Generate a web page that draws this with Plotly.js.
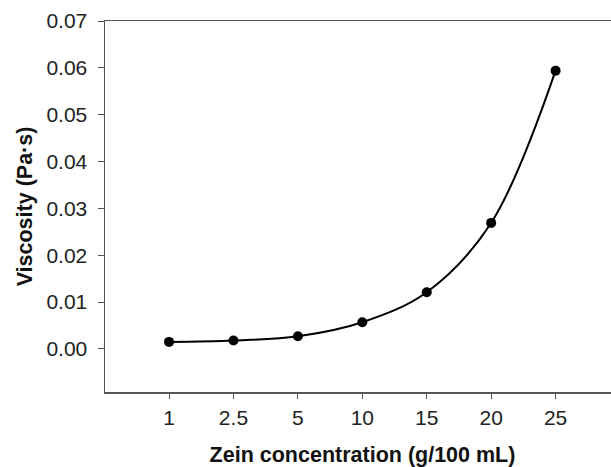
<!DOCTYPE html>
<html>
<head>
<meta charset="utf-8">
<script src="https://cdn.plot.ly/plotly-3.0.1.min.js"></script>
<style>
html, body { margin: 0; padding: 0; overflow: hidden; background: #fff; }
#chart { width: 630px; height: 467px; }
</style>
</head>
<body>
<div id="chart"></div>
<script>
const concentrations = ['1', '2.5', '5', '10', '15', '20', '25'];
const viscosity = [0.0015, 0.0018, 0.0027, 0.0057, 0.0121, 0.0269, 0.0594];
const yTickVals = [0, 0.01, 0.02, 0.03, 0.04, 0.05, 0.06, 0.07];
const yTickText = ['0.00', '0.01', '0.02', '0.03', '0.04', '0.05', '0.06', '0.07'];

const trace = {
  x: concentrations,
  y: viscosity,
  type: 'scatter',
  mode: 'lines+markers',
  line: { color: '#000', width: 2, shape: 'spline', smoothing: 1 },
  marker: { color: '#000', size: 10 },
  cliponaxis: false,
  hoverinfo: 'skip'
};

const layout = {
  width: 630,
  height: 467,
  margin: { l: 105, r: 10, t: 21, b: 75 },
  paper_bgcolor: '#fff',
  plot_bgcolor: '#fff',
  showlegend: false,
  font: { family: 'Liberation Sans, Arial, sans-serif', color: '#222' },
  xaxis: {
    type: 'category',
    range: [-0.994, 7.0],
    showgrid: false,
    zeroline: false,
    showline: true,
    mirror: true,
    linecolor: '#555',
    linewidth: 1.5,
    ticks: 'outside',
    ticklen: 5,
    tickwidth: 1,
    tickcolor: '#555',
    ticklabelstandoff: 1,
    tickfont: { size: 21, color: '#222' },
    title: { text: '<b>Zein concentration (g/100 mL)</b>', font: { size: 21.5, color: '#111' }, standoff: 22 }
  },
  yaxis: {
    range: [-0.0092, 0.07],
    showgrid: false,
    zeroline: false,
    showline: true,
    mirror: false,
    linecolor: '#555',
    linewidth: 1.5,
    ticks: 'outside',
    ticklen: 6,
    tickwidth: 1,
    tickcolor: '#555',
    ticklabelstandoff: 6,
    tickvals: yTickVals,
    ticktext: yTickText,
    tickfont: { size: 21, color: '#222' },
    title: { text: '<b>Viscosity (Pa·s)</b>', font: { size: 21.5, color: '#111' }, standoff: 8 }
  }
};

Plotly.newPlot('chart', [trace], layout, { displayModeBar: false, staticPlot: true });
</script>
</body>
</html>
